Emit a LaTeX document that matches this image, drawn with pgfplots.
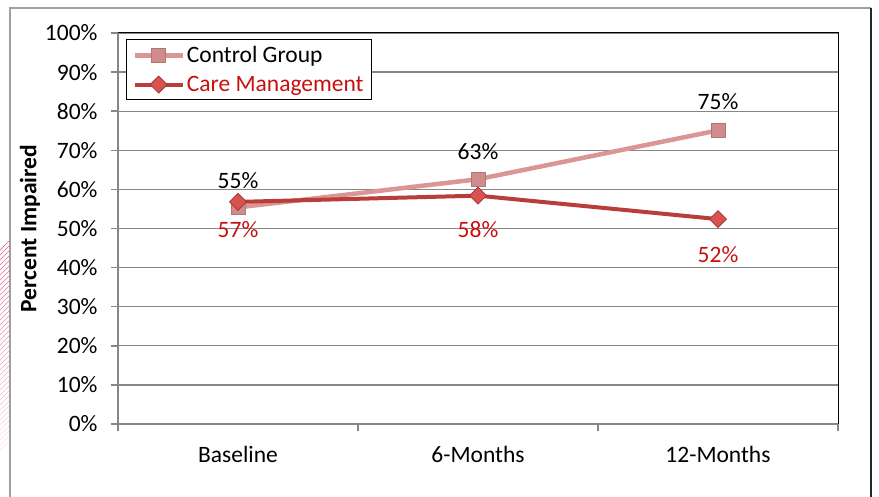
\documentclass[border=0pt]{standalone}
\usepackage{pgfplots}
\pgfplotsset{compat=1.18}
\usepackage{pgfplotstable}
\usepackage{fontspec}
\setmainfont{Carlito}
\definecolor{ctrl}{RGB}{217,150,148}
\definecolor{ctrlmark}{RGB}{208,140,140}
\definecolor{care}{RGB}{185,62,58}
\definecolor{caremark}{RGB}{215,82,80}
\definecolor{carelabel}{RGB}{200,16,16}
\definecolor{gridgray}{RGB}{134,134,134}
\definecolor{hatch}{RGB}{232,90,140}

\pgfplotstableread{
x y off
0 55.4 27
1 62.6 28
2 75.1 29
}\ctrltab
\pgfplotstableread{
x y off
0 56.8 28
1 58.4 34
2 52.4 35
}\caretab

\pgfplotsset{/pgf/number format/assume math mode=true}
\newcommand{\bigf}{\fontsize{23.5}{27}\selectfont}

\begin{document}
\begin{tikzpicture}
\useasboundingbox (-118pt,-72pt) rectangle (761pt,424pt);
% slide decoration at left edge
\foreach \i in {0,...,40}{
  \pgfmathsetmacro{\op}{1-\i/48}
  \draw[hatch, opacity=\op, line width=0.5pt] (-118pt,{184pt-\i*5pt-10pt}) -- (-108pt,{184pt-\i*5pt});
}
% outer chart frame
\draw[gray!75, line width=1.5pt] (-108pt,-80pt) -- (-108pt,416pt) -- (753pt,416pt);
\draw[black!85, line width=1.5pt] (753pt,416pt) -- (753pt,-80pt);
\begin{axis}[
  at={(0pt,0pt)}, anchor=south west,
  width=720pt, height=391pt, scale only axis,
  xmin=-0.5, xmax=2.5, ymin=0, ymax=100,
  axis x line*=bottom, axis y line*=left,
  axis line style={gridgray, line width=2pt},
  xtick={-0.5,0.5,1.5,2.5},
  x tick label as interval,
  xticklabels={Baseline,6-Months,12-Months},
  ytick={0,10,...,100},
  yticklabel={\pgfmathprintnumber{\tick}\%},
  ymajorgrids,
  major grid style={gridgray, line width=1.3pt},
  tick align=outside,
  major tick length=7pt,
  tick style={gridgray, line width=1.5pt},
  ticklabel style={font=\bigf},
  yticklabel style={xshift=-10pt},
  xticklabel style={yshift=-12pt},
  ylabel={\textbf{Percent Impaired}},
  ylabel style={font=\bigf, at={(axis description cs:-0.1222,0.5)}, anchor=center},
  legend style={font=\bigf, at={(axis description cs:0.011,0.985)}, anchor=north west,
    draw=black, line width=1pt, fill=white, row sep=8pt, inner xsep=6pt, inner ysep=5pt},
  legend cell align=left,
  legend image code/.code={\draw[mark repeat=2,mark phase=2] plot coordinates {(0pt,0pt) (24pt,0pt) (48pt,0pt)};},
  clip=false,
]
\draw[black, line width=1pt] (rel axis cs:0,1) -- (rel axis cs:1,1) -- (rel axis cs:1,0);
\addplot[ctrl, line width=4.5pt, mark=square*, mark size=7pt,
  mark options={fill=ctrlmark, draw=ctrlmark!85!black, line width=0.8pt},
  point meta=y,
  visualization depends on={\thisrow{off}\as\myoff},
  nodes near coords={\pgfmathprintnumber[fixed,precision=0]{\pgfplotspointmeta}\%},
  nodes near coords style={font=\bigf, text=black, anchor=center, yshift=\myoff pt},
] table[x=x,y=y] {\ctrltab};
\addlegendentry{Control Group}
\addplot[care, line width=4pt, mark=square*, mark size=6pt,
  mark options={rotate=45, fill=caremark, draw=care!85!black, line width=0.8pt},
  point meta=y,
  visualization depends on={\thisrow{off}\as\myoff},
  nodes near coords={\pgfmathprintnumber[fixed,precision=0]{\pgfplotspointmeta}\%},
  nodes near coords style={font=\bigf, text=carelabel, anchor=center, yshift=-\myoff pt},
] table[x=x,y=y] {\caretab};
\addlegendentry{\textcolor{carelabel}{Care Management}}
\end{axis}
\end{tikzpicture}
\end{document}
